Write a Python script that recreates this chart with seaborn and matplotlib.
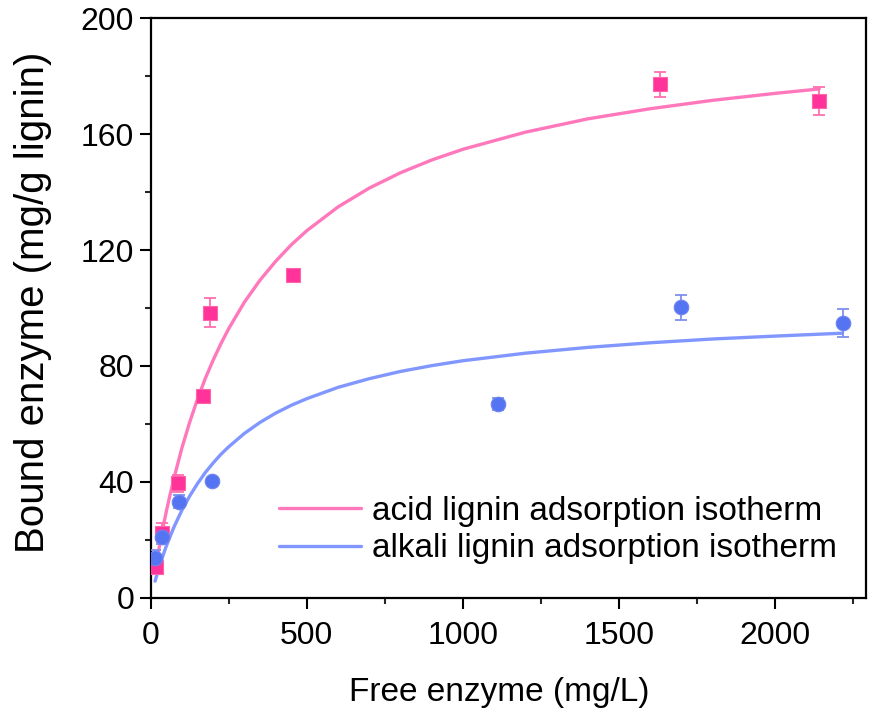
import seaborn as sns
import matplotlib.pyplot as plt
import pandas as pd

acid_x = [17, 35, 88, 166, 190, 456, 1631, 2139]
acid_y = [10.7, 22.4, 39.5, 69.7, 98.4, 111.3, 177.2, 171.4]
acid_err = [1.5, 3.3, 2.9, 1.5, 5.0, 1.5, 4.4, 4.9]

alkali_x = [14, 35, 91, 195, 1112, 1698, 2215]
alkali_y = [13.6, 21.0, 33.1, 40.3, 66.8, 100.2, 94.9]
alkali_err = [3.0, 2.5, 2.3, 0.5, 2.0, 4.2, 4.8]

# Isotherm fit curves
acid_fit_x = [15, 20, 30, 40, 50, 60, 75, 100, 125, 150, 175, 200, 225, 250, 300,
              350, 400, 450, 500, 600, 700, 800, 900, 1000, 1200, 1400, 1600,
              1800, 2000, 2140]
acid_fit_y = [9.9, 13.0, 18.9, 24.5, 29.7, 34.6, 41.4, 51.7, 60.6, 68.6, 75.7,
              82.0, 87.7, 92.9, 102.0, 109.6, 116.1, 121.8, 126.7, 134.9, 141.4,
              146.7, 151.1, 154.8, 160.7, 165.3, 168.8, 171.7, 174.1, 175.6]

alkali_fit_x = [14, 20, 30, 40, 50, 60, 75, 100, 125, 150, 175, 200, 225, 250, 300,
                350, 400, 450, 500, 600, 700, 800, 900, 1000, 1200, 1400, 1600,
                1800, 2000, 2215]
alkali_fit_y = [5.7, 7.9, 11.5, 14.7, 17.8, 20.5, 24.5, 30.2, 35.1, 39.4, 43.2,
                46.5, 49.5, 52.1, 56.7, 60.5, 63.7, 66.4, 68.7, 72.6, 75.6, 78.1,
                80.1, 81.8, 84.4, 86.4, 88.0, 89.3, 90.3, 91.3]

sns.set_style("ticks")
plt.rcParams["font.family"] = ["Liberation Sans", "DejaVu Sans"]
plt.rcParams["text.color"] = "black"
plt.rcParams["axes.labelcolor"] = "black"

pink_line, pink_mark, pink_err = "#FF78BC", "#FF3399", "#FF6FB0"
blue_line, blue_mark, blue_err = "#8197FF", "#5574F2", "#7E90EE"

fig = plt.figure(figsize=(8.74, 7.18), dpi=100)
ax = fig.add_axes([0.1724, 0.1676, 0.8184, 0.8069])

fits = pd.DataFrame({
    "x": acid_fit_x + alkali_fit_x,
    "y": acid_fit_y + alkali_fit_y,
    "series": ["acid lignin adsorption isotherm"] * len(acid_fit_x)
              + ["alkali lignin adsorption isotherm"] * len(alkali_fit_x),
})
sns.lineplot(data=fits, x="x", y="y", hue="series", sort=False, estimator=None,
             palette=[pink_line, blue_line], linewidth=2.4, ax=ax, zorder=2)

# error bars
ax.errorbar(acid_x, acid_y, yerr=acid_err, fmt="none", ecolor=pink_err,
            elinewidth=1.3, capsize=4.5, capthick=1.3, zorder=3)
ax.errorbar(alkali_x, alkali_y, yerr=alkali_err, fmt="none", ecolor=blue_err,
            elinewidth=1.3, capsize=4.5, capthick=1.3, zorder=3)

sns.scatterplot(x=acid_x, y=acid_y, marker="s", s=95, color=pink_mark,
                edgecolor="#FF66AA", linewidth=0.8, ax=ax, zorder=4, legend=False)
sns.scatterplot(x=alkali_x, y=alkali_y, marker="o", s=110, color=blue_mark,
                edgecolor="#6F84F0", linewidth=0.8, ax=ax, zorder=4, legend=False)

ax.set_xlim(0, 2290)
ax.set_ylim(0, 200)
ax.set_xticks([0, 500, 1000, 1500, 2000])
ax.set_xticks([250, 750, 1250, 1750, 2250], minor=True)
ax.set_yticks([0, 40, 80, 120, 160, 200])
ax.set_yticks([20, 60, 100, 140, 180], minor=True)

for s in ax.spines.values():
    s.set_visible(True)
    s.set_linewidth(1.6)
    s.set_color("black")
ax.tick_params(which="major", direction="out", length=8, width=1.5,
               labelsize=23, colors="black")
ax.tick_params(axis="x", which="major", pad=9)
ax.tick_params(axis="y", which="major", pad=4)
ax.tick_params(which="minor", direction="out", length=4.5, width=1.5)
ax.tick_params(top=False, right=False)

ax.set_xlabel("Free enzyme (mg/L)", fontsize=24, color="black")
ax.set_ylabel("Bound enzyme (mg/g lignin)", fontsize=29, color="black")
ax.xaxis.set_label_coords(0.487, -0.137)
ax.yaxis.set_label_coords(-0.138, 0.51)

leg = ax.legend(loc="center", bbox_to_anchor=(0.57, 0.117), frameon=False,
                fontsize=24, handlelength=2.45, handletextpad=0.34,
                labelspacing=0.2, borderpad=0)
for t in leg.get_texts():
    t.set_color("black")

fig.savefig("out.png", dpi=100)
